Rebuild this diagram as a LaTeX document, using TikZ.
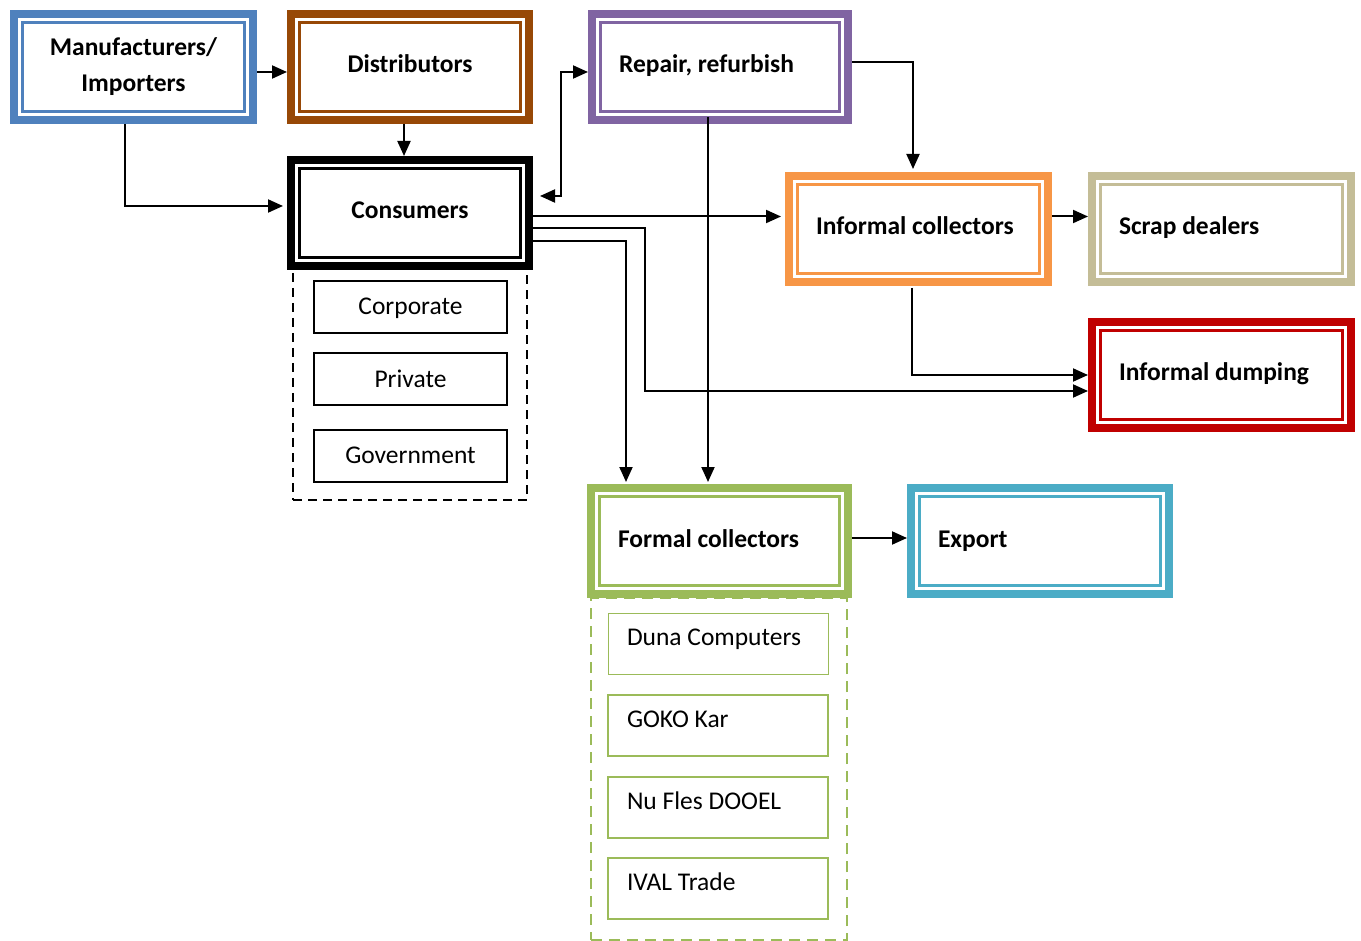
\documentclass[tikz,border=0pt]{standalone}
\usepackage{fontspec}
\setmainfont{Carlito}
\usetikzlibrary{arrows.meta,calc}
\definecolor{cblue}{HTML}{4F81BD}
\definecolor{cbrown}{HTML}{974806}
\definecolor{cpurple}{HTML}{8064A2}
\definecolor{corange}{HTML}{F79646}
\definecolor{ctan}{HTML}{C4BD97}
\definecolor{cred}{HTML}{C00000}
\definecolor{cgreen}{HTML}{9BBB59}
\definecolor{cexp}{HTML}{4BACC6}
\newcommand\leftlab[3]{\makebox[#1][l]{\hspace*{#2}#3}}
\begin{document}
\begin{tikzpicture}[x=1pt,y=-1pt,
  bx/.style={draw=#1, line width=8pt, outer sep=4pt, inner sep=0pt, fill=white,
    minimum height=106pt, text height=19pt, text depth=7pt,
    font=\fontsize{25.5}{36}\selectfont\bfseries},
  bitem/.style={draw=black, line width=2pt, inner sep=0pt, minimum width=193pt,
    minimum height=52pt, text height=19pt, text depth=3pt,
    font=\fontsize{25.5}{30}\selectfont},
  gitem/.style={draw=cgreen, line width=2pt, inner sep=0pt, minimum width=220pt,
    minimum height=61pt, text height=19pt, text depth=14.6pt,
    font=\fontsize{25.5}{30}\selectfont},
  grp/.style={draw=#1, line width=2.5pt, inner sep=0pt},
  arr/.style={line width=2pt, -{Triangle[length=15pt,width=13pt]}},
  darr/.style={line width=2pt, {Triangle[length=15pt,width=13pt]}-{Triangle[length=15pt,width=13pt]}}
]
\fill[white] (0,0) rectangle (1361,941);
\useasboundingbox (0,0) rectangle (1361,941);

% groups
\node[grp=black, dash pattern=on 9pt off 6pt, minimum width=234pt, minimum height=232pt] (cgrp) at (410,384) {};
\node[grp=cgreen, dash pattern=on 11pt off 7pt, minimum width=256pt, minimum height=342pt] (fgrp) at (719,769) {};

% main boxes
\node[bx=cblue, minimum width=239pt, align=center, text height={}, text depth={}] (man) at (133.5,67) {Manufacturers/\\Importers};
\node[bx=cbrown, minimum width=238pt] (dis) at (410,67) {Distributors};
\node[bx=cpurple, minimum width=256pt] (rep) at (720,67) {\leftlab{256pt}{27pt}{Repair, refurbish}};
\node[bx=black, minimum width=238pt] (con) at (410,213) {Consumers};
\node[bx=corange, minimum width=259pt] (inf) at (918.5,229) {\leftlab{259pt}{27pt}{Informal collectors}};
\node[bx=ctan, minimum width=259pt] (scr) at (1221.5,229) {\leftlab{259pt}{27pt}{Scrap dealers}};
\node[bx=cred, minimum width=259pt] (dum) at (1221.5,375) {\leftlab{259pt}{27pt}{Informal dumping}};
\node[bx=cgreen, minimum width=257pt] (frm) at (719.5,541) {\leftlab{257pt}{27pt}{Formal collectors}};
\node[bx=cexp, minimum width=258pt] (exp) at (1040,541) {\leftlab{258pt}{27pt}{Export}};

\foreach \n/\c in {man/cblue, dis/cbrown, rep/cpurple, con/black, inf/corange, scr/ctan, dum/cred, frm/cgreen, exp/cexp}
  \draw[\c, line width=2.5pt] ([xshift=12.5pt,yshift=-12.5pt]\n.north west) rectangle ([xshift=-12.5pt,yshift=12.5pt]\n.south east);

% consumer types
\node[bitem] (corp) at (410.5,307) {Corporate};
\node[bitem] (priv) at (410.5,379.5) {Private};
\node[bitem] (gov) at (410.5,455.5) {Government};

% formal collectors
\node[gitem, line width=1pt] (duna) at (718,643.5) {\leftlab{220pt}{19pt}{Duna Computers}};
\node[gitem] (goko) at (718,725) {\leftlab{220pt}{19pt}{GOKO Kar}};
\node[gitem] (nufl) at (718,807.5) {\leftlab{220pt}{19pt}{Nu Fles DOOEL}};
\node[gitem] (ival) at (718,888.5) {\leftlab{220pt}{19pt}{IVAL Trade}};

% connectors
\draw[arr] ([yshift=-5pt]man.east) -- ([yshift=-5pt]dis.west);
\draw[arr] ([xshift=-8.5pt]man.south) |- ([yshift=7pt,xshift=-4pt]con.west);
\draw[arr] ([xshift=-6pt]dis.south) -- ([xshift=-6pt]con.north);
\draw[darr] ([yshift=17pt,xshift=7pt]con.east) -- ([yshift=17pt,xshift=28pt]con.east) |- ([yshift=-5pt]rep.west);
\draw[arr] ([yshift=5pt]rep.east) -| ([xshift=-5.5pt,yshift=3pt]inf.north);
\draw[arr] ([xshift=-12pt,yshift=7pt]rep.south) -- ([xshift=-11.5pt,yshift=2pt]frm.north);
\coordinate (c1) at ([yshift=-3.5pt]con.east);
\draw[arr, shorten >=4pt] (c1) -- (c1 -| inf.west);
\coordinate (c2) at ([yshift=-15pt]con.east);
\coordinate (d2) at ([yshift=-16pt]dum.west);
\draw[arr] (c2) -- ([xshift=112pt]c2) |- (d2);
\coordinate (c3) at ([yshift=-28pt]con.east);
\draw[arr, shorten >=2pt] (c3) -| ([xshift=-93.5pt]frm.north);
\draw[arr] ([yshift=12.5pt]inf.east) -- ([yshift=12.5pt]scr.west);
\draw[arr] ([xshift=-6.5pt,yshift=-2pt]inf.south) |- (dum.west);
\draw[arr] ([yshift=3pt]frm.east) -- ([yshift=3pt]exp.west);
\end{tikzpicture}
\end{document}
